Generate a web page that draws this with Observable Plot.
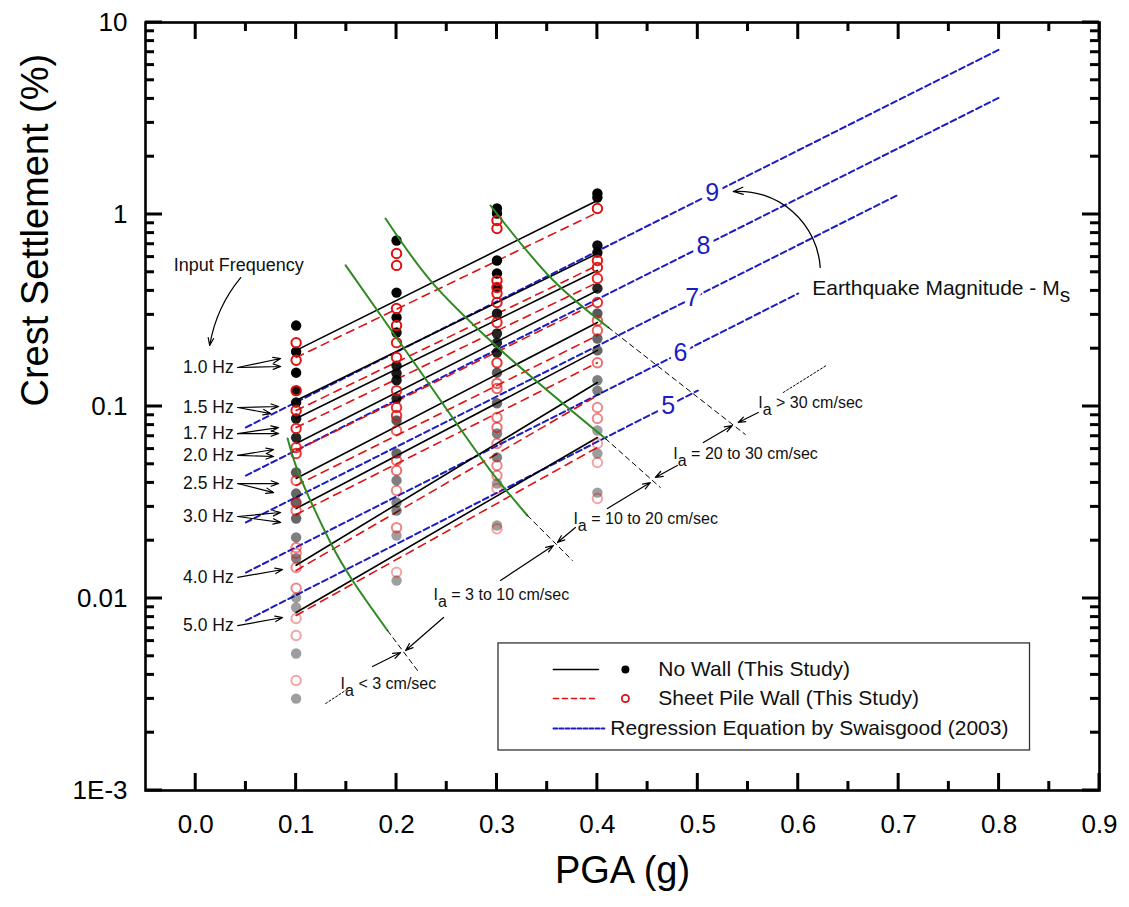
<!DOCTYPE html>
<html><head><meta charset="utf-8">
<script src="https://cdn.jsdelivr.net/npm/d3@7"></script>
<script src="https://cdn.jsdelivr.net/npm/@observablehq/plot@0.6"></script>
<style>
body{margin:0;background:#fff;}
#chart svg{font-family:"Liberation Sans",Arial,sans-serif;}
</style>
</head><body><div id="chart"></div>
<script>
// ---------------- data ----------------
const frequencies = ["1.0 Hz","1.5 Hz","1.7 Hz","2.0 Hz","2.5 Hz","3.0 Hz","4.0 Hz","5.0 Hz"];
const lineStartPGA = 0.1, lineEndPGA = 0.4;
const noWallLineStart = [0.196, 0.1075, 0.0866, 0.0642, 0.0422, 0.0294, 0.0149, 0.00845];
const noWallLineEnd   = [1.183, 0.626, 0.511, 0.402, 0.274, 0.196, 0.1334, 0.0689];
const wallLineStart   = [0.180, 0.0953, 0.0777, 0.0590, 0.0388, 0.0274, 0.0140, 0.00816];
const wallLineEnd     = [1.024, 0.543, 0.4425, 0.348, 0.2344, 0.169, 0.1141, 0.0612];

const pgaLevels = [0.1, 0.2, 0.3, 0.4];
const noWallAt01 = [0.264,0.193,0.150,0.121,0.105,0.0866,0.0689,0.0453,0.0352,0.0316,0.0261,0.0208,0.0162,0.0101,0.00898,0.00517,0.00301];
const noWallAt02 = [0.732,0.392,0.291,0.243,0.163,0.149,0.137,0.110,0.0846,0.0569,0.0412,0.0316,0.0287,0.0213,0.0124];
const noWallAt03 = [1.075,1.012,0.576,0.493,0.417,0.305,0.240,0.215,0.191,0.150,0.104,0.0723,0.0543,0.0397,0.0240];
const noWallAt04 = [1.287,1.226,0.690,0.634,0.412,0.305,0.226,0.196,0.137,0.121,0.0750,0.0569,0.0356];
const wallAt01 = [0.215,0.174,0.121,0.0953,0.0768,0.0612,0.0569,0.0412,0.0316,0.0287,0.0184,0.0172,0.0145,0.0113,0.00787,0.00642,0.00374];
const wallAt02 = [0.626,0.543,0.324,0.264,0.215,0.180,0.121,0.0988,0.0897,0.0750,0.0523,0.0464,0.0365,0.0234,0.0137];
const wallAt03 = [0.930,0.846,0.453,0.417,0.388,0.348,0.274,0.169,0.132,0.124,0.0877,0.0777,0.0642,0.0493,0.0437,0.0374,0.0231];
const wallAt04 = [1.075,0.576,0.530,0.464,0.348,0.280,0.249,0.169,0.0988,0.0866,0.0642,0.0511,0.0332];

// Swaisgood (2003) regression lines
const magnitudes = [5, 6, 7, 8, 9];
const regStartPGA = 0.05;
const regEndPGA = [0.5, 0.6, 0.7, 0.8, 0.8];
const regStartValue = [0.00767, 0.01365, 0.0249, 0.0437, 0.0778];
const regEndValue = [0.121, 0.388, 1.27, 4.06, 7.23];
const regLabelPGA = [0.4706, 0.4826, 0.4945, 0.5055, 0.5144];

// Arias intensity boundaries (green curves) and dashed continuations
const iaCurvePGA = [[0.0915,0.1015,0.1373,0.1562,0.191],[0.1493,0.2209,0.2935,0.3303],[0.189,0.2338,0.2965,0.408],[0.2935,0.3562,0.4109]];
const iaCurveValue = [[0.0681,0.0464,0.0182,0.0124,0.00681],[0.543,0.1596,0.0464,0.02706],[0.953,0.453,0.2129,0.0681],[1.114,0.453,0.258]];
const iaDashPGA = [[0.191,0.2209],[0.3303,0.3751],[0.408,0.4627],[0.4109,0.5473]];
const iaDashValue = [[0.00681,0.004217],[0.02706,0.01578],[0.0681,0.03785],[0.258,0.0715]];
const iaDotPGA = [[0.1294,0.1522],[0.5851,0.6279]];
const iaDotValue = [[0.002838,0.0034],[0.1183,0.1634]];
const iaLabels = ["I_a < 3 cm/sec","I_a = 3 to 10 cm/sec","I_a = 10 to 20 cm/sec","I_a = 20 to 30 cm/sec","I_a > 30 cm/sec"];
const iaLabelPGA = [0.1443, 0.2368, 0.3761, 0.4756, 0.5602];
const iaLabelValue = [0.00361, 0.0105, 0.0261, 0.0569, 0.105];
const iaArrowFromPGA = [0.1761, 0.2468, 0.3035, 0.3781, 0.4100, 0.4796, 0.5055, 0.5602];
const iaArrowFromValue = [0.004424, 0.007962, 0.012411, 0.023437, 0.029427, 0.049286, 0.064938, 0.093057];
const iaArrowToPGA = [0.2040, 0.2090, 0.3562, 0.3602, 0.4527, 0.4577, 0.5343, 0.5403];
const iaArrowToValue = [0.005233, 0.005359, 0.018883, 0.019572, 0.040180, 0.042683, 0.079621, 0.082540];

// frequency labels and their arrows
const freqLabelPGA = 0.0378;
const freqLabelValue = [0.1596, 0.0988, 0.0723, 0.0556, 0.0397, 0.02674, 0.01287, 0.00723];
const freqArrowFromPGA = 0.0418;
const freqArrowTargets = [
  [[0.0846,0.1778],[0.0846,0.1616]],
  [[0.0826,0.1000],[0.0746,0.0919]],
  [[0.0826,0.0777],[0.0826,0.0723]],
  [[0.0776,0.0597],[0.0776,0.0549]],
  [[0.0826,0.0397],[0.0776,0.0356]],
  [[0.0846,0.02805],[0.0846,0.0249]],
  [[0.0866,0.01416]],
  [[0.0866,0.00796]]
];
const inputFreqText = "Input Frequency";
const inputFreqPos = [-0.0219, 0.543];
const inputFreqArrow = [[0.0448, 0.4695], [0.0139, 0.2078]];
const magnitudeText = "Earthquake Magnitude - M_s";
const magnitudePos = [0.6139, 0.412];
const magnitudeArrow = [[0.6219, 0.530], [0.5353, 1.318]];

// legend
const legendLabels = ["No Wall (This Study)", "Sheet Pile Wall (This Study)", "Regression Equation by Swaisgood (2003)"];
const legendBoxPGA = [0.3015, 0.8308];
const legendBoxValue = [0.001616, 0.005834];
const legendRowValue = [0.004268, 0.003013, 0.002103];

const xDomain = [-0.05, 0.9];
const yDomain = [0.001, 10];
const xMajorTicks = [0, 0.1, 0.2, 0.3, 0.4, 0.5, 0.6, 0.7, 0.8, 0.9];
const xMinorTicks = [0.05, 0.15, 0.25, 0.35, 0.45, 0.55, 0.65, 0.75, 0.85];
const yMajorTicks = [0.001, 0.01, 0.1, 1, 10];
const yMinorTicks = [0.001,0.01,0.1,1].flatMap(d => [2,3,4,5,6,7,8,9].map(k => +(d*k).toPrecision(3)));

// ---------------- derived tables ----------------
const BLUE = "#1c1cc4", RED = "#e01010", GREEN = "#2e8a22";
const shade = [1, 0.95, 0.9, 0.85, 0.65, 0.6, 0.5, 0.38];
const fi = d3.range(frequencies.length);
const twoPoint = (starts, ends) => fi.flatMap(i => [{f:i, pga:lineStartPGA, s:starts[i]}, {f:i, pga:lineEndPGA, s:ends[i]}]);
const noWallLines = twoPoint(noWallLineStart, noWallLineEnd);
const wallLines = twoPoint(wallLineStart, wallLineEnd);
function nearest(pga, s, starts, ends) {
  const t = (pga - lineStartPGA) / (lineEndPGA - lineStartPGA);
  let best = 0, bd = Infinity;
  starts.forEach((a, i) => {
    const v = Math.log10(a) + t * (Math.log10(ends[i]) - Math.log10(a));
    const dd = Math.abs(v - Math.log10(s));
    if (dd < bd) { bd = dd; best = i; }
  });
  return best;
}
const pts = (cols, starts, ends) => cols.flatMap((col, j) => col.map(s => ({pga: pgaLevels[j], s, f: nearest(pgaLevels[j], s, starts, ends)})));
const noWallPts = pts([noWallAt01, noWallAt02, noWallAt03, noWallAt04], noWallLineStart, noWallLineEnd);
const wallPts = pts([wallAt01, wallAt02, wallAt03, wallAt04], wallLineStart, wallLineEnd);

const regLines = magnitudes.flatMap((m, i) => [{m, pga: regStartPGA, s: regStartValue[i]}, {m, pga: regEndPGA[i], s: regEndValue[i]}]);
const regLabels = magnitudes.map((m, i) => {
  const t = (regLabelPGA[i] - regStartPGA) / (regEndPGA[i] - regStartPGA);
  const ls = Math.log10(regStartValue[i]) + t * (Math.log10(regEndValue[i]) - Math.log10(regStartValue[i]));
  return {m, pga: regLabelPGA[i], s: Math.pow(10, ls)};
});
const curveRows = (P, V) => P.flatMap((arr, k) => arr.map((p, j) => ({k, pga: p, s: V[k][j]})));
const iaCurves = curveRows(iaCurvePGA, iaCurveValue);
const iaDashes = curveRows(iaDashPGA, iaDashValue);
const iaDots = curveRows(iaDotPGA, iaDotValue);
const iaArrows = iaArrowFromPGA.map((p, i) => ({x1: p, y1: iaArrowFromValue[i], x2: iaArrowToPGA[i], y2: iaArrowToValue[i]}));
const iaTexts = iaLabels.map((t, i) => ({t, pga: iaLabelPGA[i], s: iaLabelValue[i]}));
const freqTexts = frequencies.map((t, i) => ({t, pga: freqLabelPGA, s: freqLabelValue[i]}));
const freqArrows = freqArrowTargets.flatMap((targets, i) => targets.map(([x2, y2]) => ({x1: freqArrowFromPGA, y1: freqLabelValue[i], x2, y2})));

// legend geometry (in data units)
const legX = {lineA: 0.3562, lineB: 0.4010, lineBlueB: 0.4070, dot: 0.4279, text: 0.4607, blueText: 0.4129};
const legLines = [
  {k:0, pga: legX.lineA, s: legendRowValue[0]}, {k:0, pga: legX.lineB, s: legendRowValue[0]},
  {k:1, pga: legX.lineA, s: legendRowValue[1]}, {k:1, pga: legX.lineB, s: legendRowValue[1]},
  {k:2, pga: legX.lineA, s: legendRowValue[2]}, {k:2, pga: legX.lineBlueB, s: legendRowValue[2]}
];

// layout
const W = 1129, H = 907, ML = 145, MR = 30, MT = 22, MB = 117;
const MAJ = 17, MIN = 9, TW = 3;
const fmtY = d => d === 0.001 ? "1E-3" : String(d);

const chart = Plot.plot({
  width: W, height: H,
  marginLeft: ML, marginRight: MR, marginTop: MT, marginBottom: MB,
  style: {fontFamily: "'Liberation Sans', Arial, sans-serif", background: "white", color: "black", overflow: "visible"},
  x: {domain: xDomain, label: null},
  y: {type: "log", domain: yDomain, label: null},
  marks: [
    Plot.line(regLines, {x: "pga", y: "s", z: "m", stroke: BLUE, strokeWidth: 2, strokeDasharray: "6,3.5"}),
    Plot.line(wallLines, {x: "pga", y: "s", z: "f", stroke: RED, strokeWidth: 1.6, strokeDasharray: "8,6"}),
    Plot.line(noWallLines, {x: "pga", y: "s", z: "f", stroke: "black", strokeWidth: 1.6}),
    Plot.dot(noWallPts, {x: "pga", y: "s", r: 5.2, fill: "black", fillOpacity: d => shade[d.f], stroke: "none"}),
    Plot.dot(wallPts, {x: "pga", y: "s", r: 4.7, fill: "none", stroke: RED, strokeWidth: 2, strokeOpacity: d => shade[d.f]}),
    Plot.line(iaCurves, {x: "pga", y: "s", z: "k", stroke: GREEN, strokeWidth: 2, curve: "catmull-rom"}),
    Plot.line(iaDashes, {x: "pga", y: "s", z: "k", stroke: "black", strokeWidth: 1, strokeDasharray: "5,4"}),
    Plot.line(iaDots, {x: "pga", y: "s", z: "k", stroke: "black", strokeWidth: 1, strokeDasharray: "2,2"}),
    Plot.arrow(iaArrows, {x1: "x1", y1: "y1", x2: "x2", y2: "y2", stroke: "black", strokeWidth: 1.2, headLength: 10, headAngle: 40}),
    Plot.text(iaTexts, {x: "pga", y: "s", text: "t", textAnchor: "start", fontSize: 16, fill: "#111"}),
    Plot.text(regLabels, {x: "pga", y: "s", text: d => String(d.m), fill: BLUE, stroke: "white", strokeWidth: 9, fontSize: 25}),
    Plot.text(freqTexts, {x: "pga", y: "s", text: "t", textAnchor: "end", fontSize: 17.5, fill: "#111"}),
    Plot.arrow(freqArrows, {x1: "x1", y1: "y1", x2: "x2", y2: "y2", stroke: "black", strokeWidth: 1.2, headLength: 10, headAngle: 40}),
    Plot.text([inputFreqText], {x: () => inputFreqPos[0], y: () => inputFreqPos[1], text: d => d, textAnchor: "start", fontSize: 18, fill: "#111"}),
    Plot.arrow([inputFreqArrow], {x1: d => d[0][0], y1: d => d[0][1], x2: d => d[1][0], y2: d => d[1][1], bend: -15, stroke: "black", strokeWidth: 1.2, headLength: 10, headAngle: 40}),
    Plot.text([magnitudeText], {x: () => magnitudePos[0], y: () => magnitudePos[1], text: d => d, textAnchor: "start", fontSize: 21, fill: "#111"}),
    Plot.arrow([magnitudeArrow], {x1: d => d[0][0], y1: d => d[0][1], x2: d => d[1][0], y2: d => d[1][1], bend: -45, stroke: "black", strokeWidth: 1.3, headLength: 12, headAngle: 40}),
    // legend
    Plot.rect([0], {x1: () => legendBoxPGA[0], x2: () => legendBoxPGA[1], y1: () => legendBoxValue[0], y2: () => legendBoxValue[1], fill: "white", stroke: "#333", strokeWidth: 1.3}),
    Plot.line(legLines.filter(d => d.k === 0), {x: "pga", y: "s", stroke: "black", strokeWidth: 1.6}),
    Plot.line(legLines.filter(d => d.k === 1), {x: "pga", y: "s", stroke: RED, strokeWidth: 1.6, strokeDasharray: "5,4"}),
    Plot.line(legLines.filter(d => d.k === 2), {x: "pga", y: "s", stroke: BLUE, strokeWidth: 1.8, strokeDasharray: "4,2"}),
    Plot.dot([0], {x: () => legX.dot, y: () => legendRowValue[0], r: 4, fill: "black"}),
    Plot.dot([0], {x: () => legX.dot, y: () => legendRowValue[1], r: 3.6, fill: "none", stroke: RED, strokeWidth: 1.8}),
    Plot.text(legendLabels, {x: (d, i) => i === 2 ? legX.blueText : legX.text, y: (d, i) => legendRowValue[i], text: d => d, textAnchor: "start", fontSize: 21, fill: "#111"}),
    // axis tick labels
    Plot.axisX(xMajorTicks, {anchor: "bottom", tickSize: 0, tickPadding: 24, tickFormat: d3.format(".1f"), fontSize: 26, label: null}),
    Plot.axisY(yMajorTicks, {anchor: "left", tickSize: 0, tickPadding: 18, tickFormat: fmtY, fontSize: 26, label: null}),
    Plot.frame({stroke: "black", strokeWidth: 2.6}),
    Plot.text(["Crest Settlement (%)"], {frameAnchor: "left", dx: -110, rotate: -90, text: d => d, fontSize: 38}),
    Plot.text(["PGA (g)"], {frameAnchor: "bottom", dy: 92, text: d => d, fontSize: 38})
  ]
});

// inward ticks on all four sides, placed through Plot's own x and y scales
const sx = chart.scale("x"), sy = chart.scale("y");
const [x0, x1] = sx.range, [yb, yt] = sy.range;
const g = d3.select(chart).append("g").attr("aria-label", "inward ticks")
  .attr("stroke", "#000").attr("stroke-width", TW).attr("fill", "none");
for (const [ticks, len] of [[xMajorTicks, MAJ], [xMinorTicks, MIN]]) for (const v of ticks) {
  const px = sx.apply(v);
  g.append("line").attr("x1", px).attr("x2", px).attr("y1", yb).attr("y2", yb - len);
  g.append("line").attr("x1", px).attr("x2", px).attr("y1", yt).attr("y2", yt + len);
}
for (const [ticks, len] of [[yMajorTicks, MAJ], [yMinorTicks, MIN]]) for (const v of ticks) {
  const py = sy.apply(v);
  g.append("line").attr("y1", py).attr("y2", py).attr("x1", x0).attr("x2", x0 + len);
  g.append("line").attr("y1", py).attr("y2", py).attr("x1", x1).attr("x2", x1 - len);
}

// subscripts: "X_y rest" -> X + subscript y + rest
const NS = "http://www.w3.org/2000/svg";
chart.querySelectorAll("text").forEach(t => {
  const m = t.textContent.match(/^(.*?)_(\w)(.*)$/);
  if (!m) return;
  t.textContent = "";
  const a = document.createElementNS(NS, "tspan"); a.textContent = m[1];
  const b = document.createElementNS(NS, "tspan"); b.textContent = m[2]; b.setAttribute("dy", "7");
  const c = document.createElementNS(NS, "tspan"); c.textContent = m[3]; c.setAttribute("dy", "-7");
  t.append(a, b, c);
});
document.getElementById("chart").appendChild(chart);
</script>
</body></html>
